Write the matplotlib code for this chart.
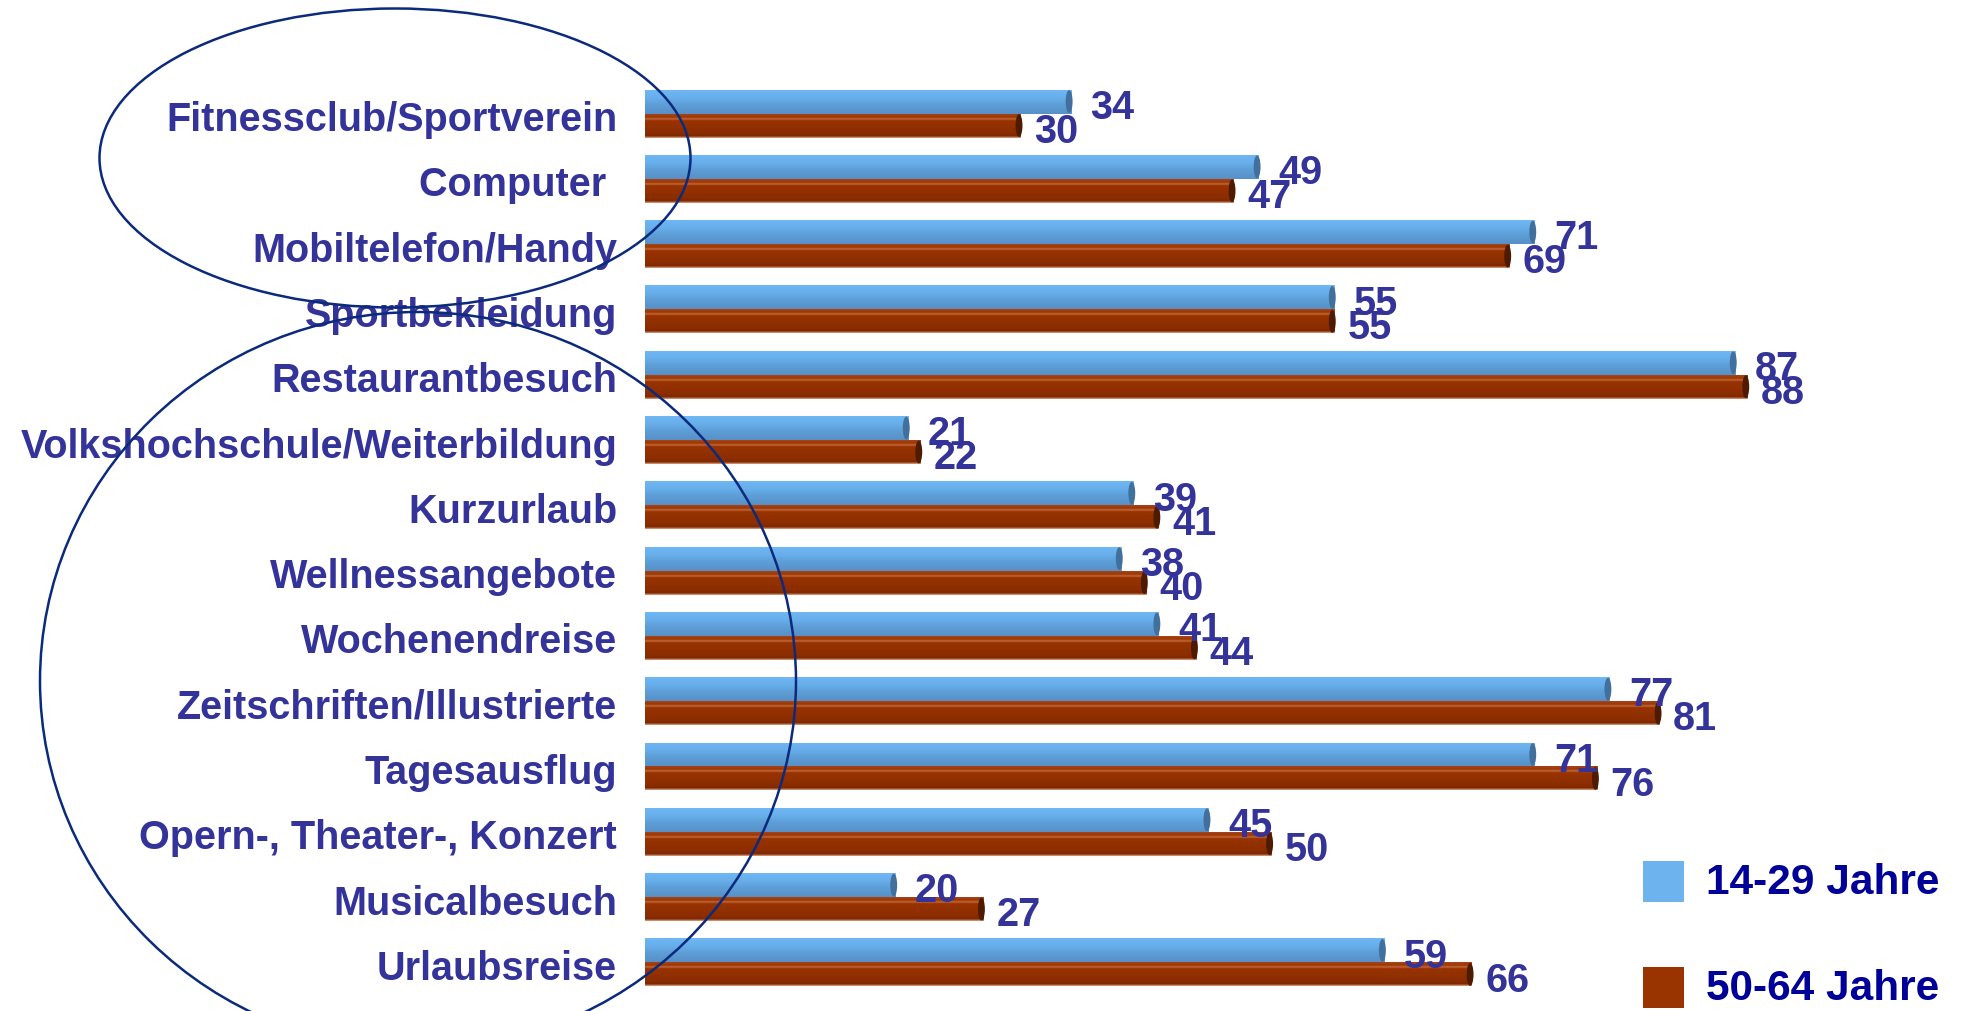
import numpy as np
import matplotlib
matplotlib.use('Agg')
import matplotlib.pyplot as plt
import matplotlib.transforms as mtransforms
from matplotlib.patches import Ellipse, Rectangle
from matplotlib.colors import LinearSegmentedColormap

plt.rcParams['font.family'] = ['Liberation Sans', 'DejaVu Sans']
plt.rcParams['font.weight'] = 'bold'

categories = ['Fitnessclub/Sportverein', 'Computer ', 'Mobiltelefon/Handy',
              'Sportbekleidung', 'Restaurantbesuch',
              'Volkshochschule/Weiterbildung', 'Kurzurlaub',
              'Wellnessangebote', 'Wochenendreise',
              'Zeitschriften/Illustrierte', 'Tagesausflug',
              'Opern-, Theater-, Konzert', 'Musicalbesuch', 'Urlaubsreise']
jung = [34, 49, 71, 55, 87, 21, 39, 38, 41, 77, 71, 45, 20, 59]
alt = [30, 47, 69, 55, 88, 22, 41, 40, 44, 81, 76, 50, 27, 66]
series_names = ['14-29 Jahre', '50-64 Jahre']

W, H = 1962, 1011
fig = plt.figure(figsize=(W / 100, H / 100), dpi=100)
ax = fig.add_axes([645 / W, 0, 1253 / W, 1])

label_col = '#333399'
legend_col = '#000099'
ring_col = '#0b2a7c'

h = 24 / 65.3
y = np.arange(len(categories))

# gradient fills for the tube look
blue_cm = LinearSegmentedColormap.from_list(
    'b', [(0, '#6fb8f4'), (0.35, '#66adea'), (0.6, '#5e9fd8'), (1, '#5790c6')])
brown_cm = LinearSegmentedColormap.from_list(
    'r', [(0, '#a8431a'), (0.12, '#9c3600'), (0.2, '#c06a3c'), (0.27, '#993300'),
          (0.8, '#8a2d00'), (0.92, '#7e2700'), (1, '#d7a080')])
grad = np.linspace(0, 1, 60).reshape(-1, 1)


def tube(vals, offs, cmap, cap):
    bars = ax.barh(y + offs, vals, height=h, color='none', edgecolor='none')
    for b, v in zip(bars, vals):
        yt = b.get_y()
        yb = yt + h
        im = ax.imshow(grad, cmap=cmap, extent=[0, v, yb, yt],
                       aspect='auto', origin='upper', zorder=2)
        im.set_clip_path(b)
        ax.add_patch(Ellipse((v - 0.15, yt + h / 2), 0.55, h * 0.95,
                             facecolor=cap, edgecolor='none', zorder=3))
    return bars


tube(jung, -h / 2, blue_cm, '#41709c')
tube(alt, h / 2, brown_cm, '#4e1a00')

for i in range(len(categories)):
    ax.annotate(str(jung[i]), (jung[i], i - h / 2), xytext=(14, -4.5),
                textcoords='offset points', ha='left', va='center',
                fontsize=28.5, color=label_col, fontweight='bold')
    ax.annotate(str(alt[i]), (alt[i], i + h / 2), xytext=(9.5, -4.5),
                textcoords='offset points', ha='left', va='center',
                fontsize=28.5, color=label_col, fontweight='bold')

ax.set_xlim(0, 100)
ax.set_ylim((H - 113.5) / 65.3, -113.5 / 65.3)
ax.set_yticks(y)
ax.set_yticklabels(categories, fontsize=28.5, color=label_col, fontweight='bold')
ax.tick_params(axis='y', length=0, pad=20)
shift = mtransforms.ScaledTranslation(0, -2.5 / 100, fig.dpi_scale_trans)
for t in ax.get_yticklabels():
    t.set_transform(t.get_transform() + shift)
ax.set_xticks([])
for s in ax.spines.values():
    s.set_visible(False)
ax.patch.set_alpha(0)

# rings around the two groups of labels
fig.add_artist(Ellipse((395 / W, 1 - 158 / H), 591 / W, 299 / H,
                       transform=fig.transFigure, facecolor='none',
                       edgecolor=ring_col, lw=1.8, zorder=10))
fig.add_artist(Ellipse((418 / W, 1 - 681 / H), 756 / W, 738 / H,
                       transform=fig.transFigure, facecolor='none',
                       edgecolor=ring_col, lw=1.8, zorder=10))

# legend
for k, (name, col) in enumerate(zip(series_names, ['#6db3ee', '#993300'])):
    top = 861 + k * 106
    fig.add_artist(Rectangle((1643 / W, 1 - (top + 41) / H), 41 / W, 41 / H,
                             transform=fig.transFigure, facecolor=col,
                             edgecolor='none'))
    fig.text(1706 / W, 1 - (top + 22) / H, name, fontsize=30.5,
             color=legend_col, fontweight='bold', va='center', ha='left')

fig.savefig('out.png', dpi=100)
